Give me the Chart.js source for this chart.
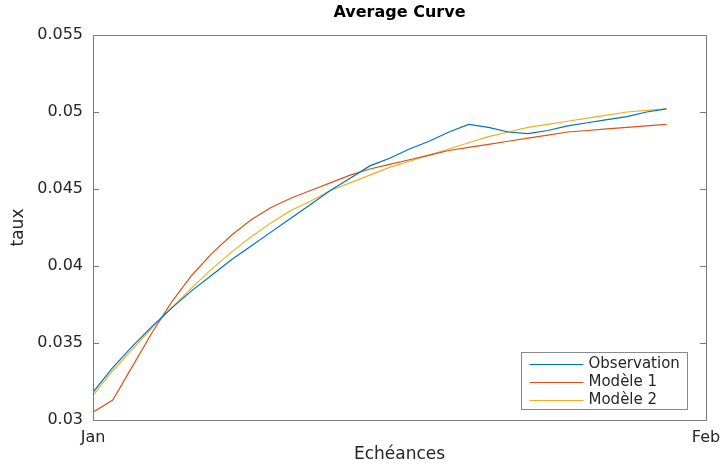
<!DOCTYPE html>
<html>
<head>
<meta charset="utf-8">
<script src="https://cdn.jsdelivr.net/npm/chart.js@4"></script>
<style>
  html, body { margin: 0; padding: 0; background: #fff; }
</style>
</head>
<body>
<canvas id="myChart" width="723" height="465"></canvas>
<script>
// maturities in days from Jan 1
const days = [0, 1, 2, 3, 4, 5, 6, 7, 8, 9, 10, 11, 12, 13, 14, 15, 16, 17, 18, 19, 20, 21, 22, 23, 24, 25, 26, 27, 28, 29];

const observation = [0.0318, 0.0334, 0.0348, 0.0361, 0.0373, 0.0384, 0.0394, 0.0404, 0.0413, 0.0422,
    0.0431, 0.0440, 0.0449, 0.0457, 0.0465, 0.0470, 0.0476, 0.0481, 0.0487, 0.0492,
    0.0490, 0.0487, 0.0486, 0.0488, 0.0491, 0.0493, 0.0495, 0.0497, 0.0500, 0.0502];

const modele1 = [0.0305, 0.0313, 0.0335, 0.0357, 0.0377, 0.0394, 0.0408, 0.0420, 0.0430, 0.0438,
    0.0444, 0.0449, 0.0454, 0.0459, 0.0463, 0.0466, 0.0469, 0.0472, 0.0475, 0.0477,
    0.0479, 0.0481, 0.0483, 0.0485, 0.0487, 0.0488, 0.0489, 0.0490, 0.0491, 0.0492];

const modele2 = [0.0316, 0.0332, 0.0346, 0.0360, 0.0373, 0.0386, 0.0398, 0.0409, 0.0419, 0.0428,
    0.0436, 0.0442, 0.0449, 0.0454, 0.0459, 0.0464, 0.0468, 0.0472, 0.0476, 0.0480,
    0.0484, 0.0487, 0.0490, 0.0492, 0.0494, 0.0496, 0.0498, 0.0500, 0.0501, 0.0502];

const xTickValues = [0, 31];
const xTickLabels = ['Jan', 'Feb'];
const yTickValues = [0.03, 0.035, 0.04, 0.045, 0.05, 0.055];

const textColor = '#262626';
const axisColor = '#7a7a7a';
const fontFamily = '"DejaVu Sans", sans-serif';

function toPoints(ys) {
    return days.map((d, i) => ({ x: d, y: ys[i] }));
}

// box, inward ticks and the legend inside the plot (MATLAB look)
const matlabAxes = {
    id: 'matlabAxes',
    afterDraw(chart) {
        const ctx = chart.ctx;
        const a = chart.chartArea;
        const y = chart.scales.y;
        ctx.save();
        ctx.strokeStyle = axisColor;
        ctx.lineWidth = 1;
        ctx.strokeRect(Math.round(a.left) + 0.5, Math.round(a.top) + 0.5,
            Math.round(a.right - a.left), Math.round(a.bottom - a.top));
        yTickValues.forEach(v => {
            const py = Math.round(y.getPixelForValue(v)) + 0.5;
            ctx.beginPath();
            ctx.moveTo(a.left, py); ctx.lineTo(a.left + 6, py);
            ctx.moveTo(a.right, py); ctx.lineTo(a.right - 6, py);
            ctx.stroke();
        });

        // legend
        const w = 166, h = 57;
        const lx = Math.round(a.right - 19 - w) + 0.5;
        const ly = Math.round(a.bottom - 11 - h) + 0.5;
        ctx.fillStyle = '#fff';
        ctx.fillRect(lx, ly, w, h);
        ctx.strokeStyle = '#8a8a8a';
        ctx.strokeRect(lx, ly, w, h);
        ctx.font = '15px ' + fontFamily;
        ctx.textBaseline = 'middle';
        chart.data.datasets.forEach((ds, i) => {
            const ry = Math.round(ly + 11 + i * 18) + 0.5;
            ctx.strokeStyle = ds.borderColor;
            ctx.lineWidth = 1;
            ctx.beginPath();
            ctx.moveTo(lx + 8, ry); ctx.lineTo(lx + 62, ry);
            ctx.stroke();
            ctx.fillStyle = textColor;
            ctx.fillText(ds.label, lx + 67, ry);
        });
        ctx.restore();
    }
};

const data = {
    datasets: [{
        label: 'Observation',
        borderColor: '#0072BD',
        backgroundColor: '#0072BD',
        data: toPoints(observation),
    },
    {
        label: 'Modèle 1',
        borderColor: '#D95319',
        backgroundColor: '#D95319',
        data: toPoints(modele1),
    },
    {
        label: 'Modèle 2',
        borderColor: '#EDB120',
        backgroundColor: '#EDB120',
        data: toPoints(modele2),
    }]
};

const config = {
    type: 'line',
    data: data,
    options: {
        responsive: false,
        animation: false,
        layout: { padding: { left: 0, right: 17, top: 0, bottom: 0 } },
        elements: {
            point: { radius: 0 },
            line: { borderWidth: 1.2, tension: 0 }
        },
        plugins: {
            legend: { display: false },
            tooltip: { enabled: false },
            title: {
                display: true,
                fullSize: false,
                text: 'Average Curve',
                color: '#000',
                font: { family: fontFamily, size: 16, weight: 'bold', lineHeight: 1.2 },
                padding: { top: 3, bottom: 12.8 }
            }
        },
        scales: {
            x: {
                type: 'linear',
                min: 0,
                max: 31,
                grid: { display: false, drawTicks: false },
                border: { display: false },
                afterBuildTicks: s => { s.ticks = xTickValues.map(v => ({ value: v })); },
                afterFit: s => { s.height = 45; s.paddingLeft = 0; s.paddingRight = 0; },
                ticks: {
                    color: textColor,
                    padding: 8,
                    maxRotation: 0,
                    font: { family: fontFamily, size: 16 },
                    callback: v => xTickLabels[xTickValues.indexOf(v)]
                },
                title: {
                    display: true,
                    text: 'Echéances',
                    color: textColor,
                    font: { family: fontFamily, size: 17 },
                    padding: { top: 0, bottom: 0 }
                }
            },
            y: {
                min: 0.03,
                max: 0.055,
                grid: { display: false, drawTicks: false },
                border: { display: false },
                afterBuildTicks: s => { s.ticks = yTickValues.map(v => ({ value: v })); },
                afterFit: s => { s.width = 93; s.paddingTop = 0; s.paddingBottom = 0; },
                ticks: {
                    color: textColor,
                    padding: 10,
                    font: { family: fontFamily, size: 16 },
                    callback: v => String(Number(v.toFixed(3)))
                },
                title: {
                    display: true,
                    text: 'taux',
                    color: textColor,
                    font: { family: fontFamily, size: 17 },
                    padding: { top: 8, bottom: 0 }
                }
            }
        }
    },
    plugins: [matlabAxes]
};

const myChart = new Chart(
    document.getElementById('myChart'),
    config
);
</script>
</body>
</html>
